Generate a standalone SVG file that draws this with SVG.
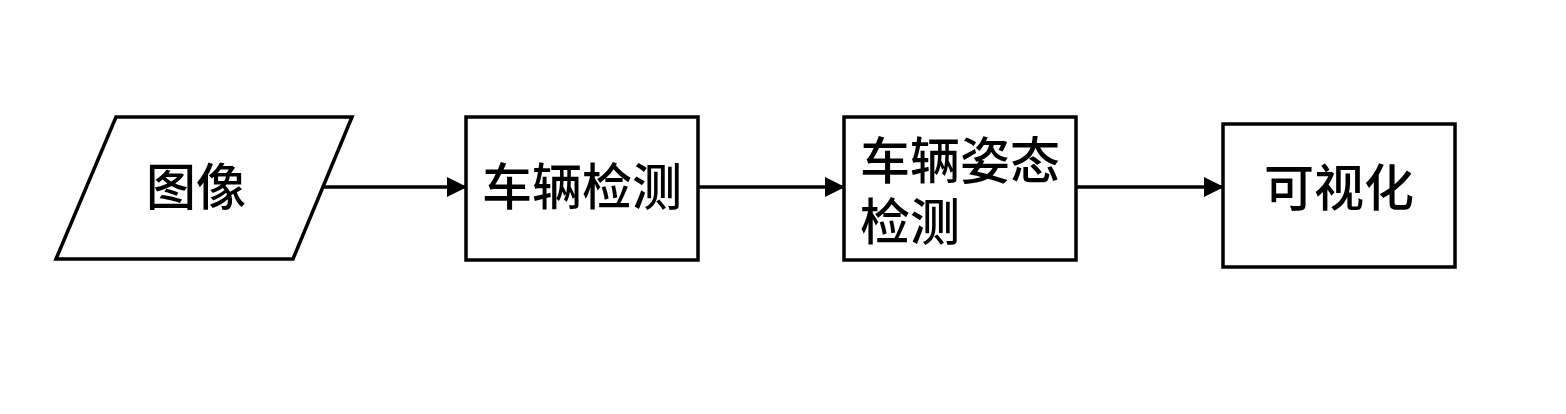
<svg xmlns="http://www.w3.org/2000/svg" width="1566" height="414" viewBox="0 0 1566 414">
<defs>
<style>
.shape{fill:#fff;stroke:#000;stroke-width:3.5}
.lbl{font-family:"Noto Sans CJK SC","Noto Sans CJK JP",sans-serif;font-size:50px;font-weight:500;fill:#000}
.conn{stroke:#000;stroke-width:3.5;fill:none}
</style>
<marker id="arr" markerWidth="20" markerHeight="20" refX="19" refY="10" orient="auto" markerUnits="userSpaceOnUse">
<path d="M0,0 L20,10 L0,20 Z" fill="#000"/>
</marker>
</defs>
<rect width="1566" height="414" fill="#fff"/>
<g id="connectors">
<line class="conn" x1="323" y1="187" x2="466" y2="187" marker-end="url(#arr)"/>
<line class="conn" x1="698" y1="187" x2="844" y2="187" marker-end="url(#arr)"/>
<line class="conn" x1="1076" y1="187" x2="1223" y2="187" marker-end="url(#arr)"/>
</g>
<g id="node-image">
<polygon class="shape" points="116,117 352,117 293,259 56,259"/>
<text class="lbl" x="196" y="205" text-anchor="middle">图像</text>
</g>
<g id="node-detect">
<rect class="shape" x="466" y="117" width="232" height="143"/>
<text class="lbl" x="582" y="205" text-anchor="middle">车辆检测</text>
</g>
<g id="node-pose">
<rect class="shape" x="844" y="117" width="232" height="143"/>
<text class="lbl"><tspan x="860" y="179">车辆姿态</tspan><tspan x="860" y="240">检测</tspan></text>
</g>
<g id="node-vis">
<rect class="shape" x="1223" y="124" width="232" height="143"/>
<text class="lbl" x="1339" y="206" text-anchor="middle">可视化</text>
</g>
</svg>
